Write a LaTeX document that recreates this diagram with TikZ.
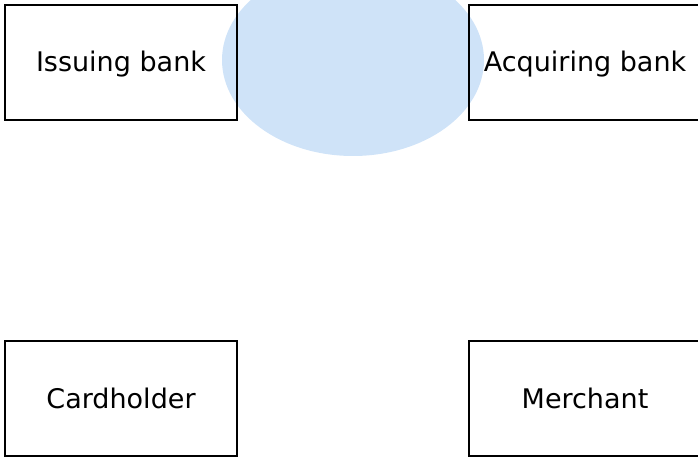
\documentclass[tikz,border=0pt]{standalone}
\usepackage{fontspec}
\setmainfont{DejaVu Sans}
\usetikzlibrary{shapes.geometric}
\definecolor{netblue}{HTML}{CFE3F8}
\tikzset{
  party/.style={draw=black, line width=1.2pt, minimum width=232pt, minimum height=115pt, inner sep=0pt, text height=20pt, text depth=1pt, font=\fontsize{27}{32}\selectfont},
  network/.style={ellipse, fill=netblue, draw=none, minimum width=262pt, minimum height=192pt, inner sep=0pt}
}
\begin{document}
\begin{tikzpicture}[x=1pt,y=1pt]
\useasboundingbox (0,0) rectangle (698,-457);
\clip (0,0) rectangle (698,-457);
\node[network] (net) at (353,-60) {};
\node[party] (issuing) at (121,-62.5) {Issuing bank};
\node[party] (acquiring) at (585,-62.5) {Acquiring bank};
\node[party] (cardholder) at (121,-398.5) {Cardholder};
\node[party] (merchant) at (585,-398.5) {Merchant};
\end{tikzpicture}
\end{document}
